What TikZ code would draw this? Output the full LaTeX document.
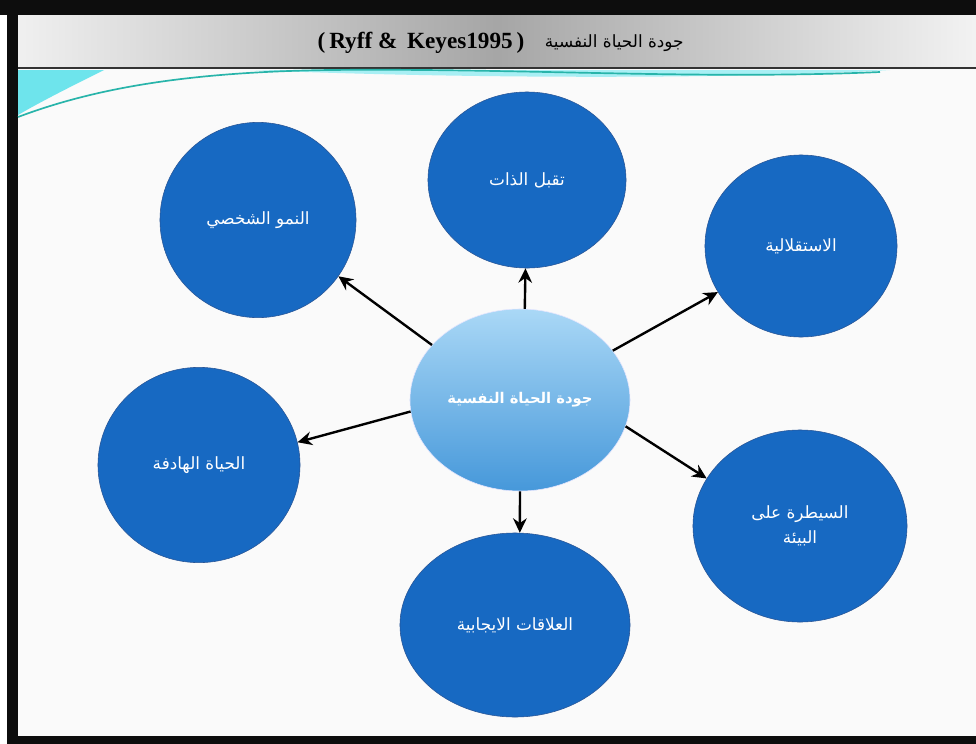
\documentclass[tikz,border=0pt]{standalone}
\usepackage{fontspec}
\setmainfont{Liberation Serif}
\newfontfamily\arabicfont[Script=Arabic]{DejaVu Sans}
\TeXXeTstate=1
\usepackage{tikz}
\usetikzlibrary{
	arrows.meta,
	positioning,
	shapes.geometric,
}
\definecolor{circblue}{RGB}{23,105,194}
\definecolor{circedge}{RGB}{40,85,150}
\definecolor{waveteal}{RGB}{40,180,170}
\definecolor{wavecyan}{RGB}{110,228,236}
\newcommand{\artext}[1]{{\arabicfont\beginR #1\endR}}
\tikzset{area node/.style={
	draw=circedge,
	ellipse,
	fill=circblue,
	inner sep=0mm,
	text=white,
	font=\fontsize{12}{18}\selectfont,
	align=center,
	thin,
}}
\tikzset{main node/.style={
	ellipse,
	draw=blue!10,
	top color={rgb,255:red,170;green,216;blue,246},
	bottom color={rgb,255:red,70;green,152;blue,218},
	inner sep=0mm,
	text=white,
	font=\fontsize{10.5}{13}\selectfont\bfseries,
	minimum width=5.5cm,
	minimum height=4.55cm,
}}
\tikzset{link/.style={
	-{Stealth[length=3.6mm,width=3.4mm]},
	line width=1.7pt,
	black,
}}
\begin{document}
\begin{tikzpicture}[x=0.025cm,y=-0.025cm]
\useasboundingbox (0,0) rectangle (976,744);

% frame and title bar
\fill[black!95] (0,0) rectangle (976,744);
\fill[white] (0,15) rectangle (7,744);
\fill[white!98!black] (18,69) rectangle (976,736);
\shade[left color=white!94!black, right color=white!95!black, middle color=black!35]
	(18,15) rectangle (976,67);
\fill[black!80] (18,67) rectangle (976,69);
\node[inner sep=0pt, font=\fontsize{16.5}{19}\selectfont\bfseries] (title) at (421,43)
	{(\,Ryff \& \,Keyes1995\,)};
\node[inner sep=0pt, right=5mm of title, font=\fontsize{12}{14}\selectfont] (titlear)
	{\artext{جودة الحياة النفسية}};

% wave
\fill[wavecyan] (18,70) -- (104,70) .. controls (72,86) and (42,101) .. (18,115) -- cycle;
\fill[wavecyan!60] (250,70) .. controls (500,80) and (760,78) .. (890,70) -- cycle;
\draw[waveteal, line width=1.2pt] (18,117) .. controls (90,90) and (180,72) .. (330,70)
	.. controls (520,68) and (700,80) .. (880,72);

% nodes
\node[main node] (c) at (520,400) {\artext{جودة الحياة النفسية}};

\node[area node, minimum width=4.95cm, minimum height=4.4cm] (t) at (527,180) {\artext{تقبل الذات}};
\node[area node, minimum width=4.9cm, minimum height=4.88cm] (tl) at (258,220) {\artext{النمو الشخصي}};
\node[area node, minimum width=4.8cm, minimum height=4.55cm] (tr) at (801,246) {\artext{الاستقلالية}};
\node[area node, minimum width=5.05cm, minimum height=4.88cm] (l) at (199,465) {\artext{الحياة الهادفة}};
\node[area node, minimum width=5.75cm, minimum height=4.6cm] (b) at (515,625) {\artext{العلاقات الايجابية}};
\node[area node, minimum width=5.35cm, minimum height=4.8cm] (br) at (800,526)
	{\artext{السيطرة على}\\\artext{البيئة}};

% center -> areas
\draw[link] (c.87) -- (t.-91);
\draw[link] (c.148) -- (tl.-35);
\draw[link] (c.28) -- (tr.-151);
\draw[link] (c.186) -- (l.13);
\draw[link] (c.-90) -- (b.87);
\draw[link] (c.-14) -- (br.153);

\end{tikzpicture}
\end{document}
